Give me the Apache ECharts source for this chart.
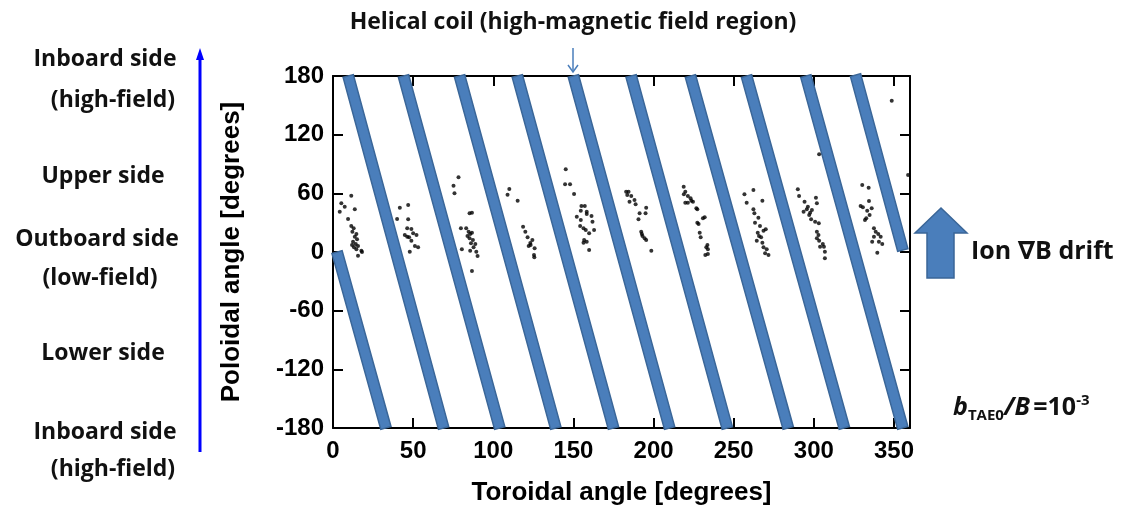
<!DOCTYPE html>
<html>
<head>
<meta charset="utf-8">
<script src="https://cdn.jsdelivr.net/npm/echarts@6/dist/echarts.min.js"></script>
<style>
  html, body { margin: 0; padding: 0; background: #fff; }
  #chart { width: 1126px; height: 511px; }
</style>
</head>
<body>
<div id="chart"></div>
<script>
// Helical coil footprints: each stripe runs from (top toroidal, top poloidal) to (end toroidal, end poloidal)
const coilStartToroidal = [2.5, 9.5, 44, 79, 115, 150, 186, 223, 258, 295, 326];
const coilStartPoloidal = [0, 180, 180, 180, 180, 180, 180, 180, 180, 180, 181];
const coilEndToroidal   = [33, 69, 104, 139, 175, 210, 246, 284, 319, 355.5, 355.5];
const coilEndPoloidal   = [-180, -180, -180, -180, -180, -180, -180, -180, -180, -180, 2];

// Lost-particle positions (toroidal angle, poloidal angle) in degrees
const lossToroidal = [
  11.4, 5.2, 7.3, 4.2, 13.6, 9.4, 11.4, 12.9, 12.1, 14.6, 13.6, 15.0, 12.5, 14.2, 15.6, 13.1, 17.7, 15.6, 14.6, 11.9, 18.1,
  41.7, 46.9, 40.0, 46.9, 46.3, 48.9, 44.8, 50.0, 47.5, 52.1, 48.9, 51.1, 53.1, 47.9, 46.3,
  78.3, 75.2, 75.8, 85.2, 86.7, 79.8, 83.1, 84.6, 85.6, 86.7, 85.2, 87.3, 86.1, 88.8, 87.7, 85.6, 89.4, 90.2, 80.4, 83.9, 86.7,
  110.0, 108.9, 115.2, 118.6, 120.0, 121.4, 122.1, 124.4, 123.3, 125.8, 125.4, 125.6, 123.1,
  145.2, 144.8, 147.9, 150.4, 155.0, 157.1, 154.6, 158.3, 152.1, 158.3, 161.3, 154.6, 161.9, 154.2, 156.3, 157.7, 162.9, 159.8, 156.7, 158.3, 156.3, 159.8,
  182.9, 184.4, 183.6, 186.1, 188.1, 185.0, 188.8, 195.4, 191.3, 195.0, 190.6, 192.3, 192.7, 194.4, 195.4, 198.6, 193.1,
  218.8, 219.8, 218.9, 221.4, 223.1, 223.6, 219.8, 221.4, 224.6, 226.7, 227.3, 231.9, 230.8, 227.3, 228.1, 228.8, 229.4, 233.6, 232.9, 233.9, 233.9, 232.3,
  256.7, 262.3, 258.1, 267.9, 262.3, 262.9, 265.4, 263.3, 266.4, 270.0, 268.6, 265.0, 265.8, 267.1, 264.4, 267.9, 268.6, 270.6, 269.6, 271.7,
  290.0, 290.8, 294.2, 296.3, 293.6, 295.6, 297.7, 298.8, 297.1, 298.3, 300.8, 301.9, 302.9, 301.9, 303.3, 303.9, 301.3, 301.9, 306.3, 306.9, 305.6, 306.9, 303.1,
  330.2, 334.2, 334.4, 329.2, 330.6, 336.1, 333.3, 334.8, 332.7, 331.9, 337.5, 338.6, 340.2, 337.5, 341.7, 340.6, 342.7, 336.4, 339.6,
  348.6, 303.3, 358.8
];
const lossPoloidal = [
  57.6, 49.8, 46.3, 41.2, 43.7, 33.7, 26.6, 24.2, 20.8, 18.4, 15.6, 13.0, 10.5, 8.2, 6.1, 4.8, 1.3, -3.8, 2.8, 7.2, 0,
  45.3, 48.1, 33.7, 33.4, 24.2, 23.5, 17.4, 19.1, 15.0, 17.4, 11.6, 6.1, 4.8, 0.3, 15.6,
  76.4, 67.8, 60.0, 39.6, 40.2, 24.2, 24.2, 20.8, 18.4, 19.7, 14.0, 12.3, 8.9, 8.2, 4.8, 1.3, 0.3, -4.1, 2.8, 16.4, -19.4,
  64.4, 58.6, 52.5, 25.9, 20.8, 15.0, 6.1, 12.3, 7.2, 3.8, -3.1, -5.4, 9.2,
  84.6, 69.2, 69.2, 59.3, 47.0, 47.0, 42.2, 41.2, 36.1, 38.9, 36.8, 32.7, 31.0, 26.6, 24.2, 22.5, 22.5, 19.1, 12.3, 10.5, 9.5, 2.0,
  61.7, 61.7, 58.3, 57.3, 53.2, 51.4, 48.8, 45.3, 39.6, 39.6, 33.4, 20.8, 18.4, 14.0, 12.3, 1.3, 16.4,
  66.8, 61.7, 59.0, 57.3, 54.9, 52.5, 50.4, 50.4, 51.4, 44.7, 43.7, 35.5, 34.5, 30.0, 28.6, 19.7, 15.0, 7.2, 4.8, 2.8, -2.0, -3.1,
  59.0, 63.4, 50.4, 52.5, 43.7, 39.6, 35.1, 30.0, 26.6, 23.2, 21.8, 19.7, 16.4, 15.0, 11.6, 9.5, 4.8, 2.8, -1.3, -3.1,
  64.1, 57.3, 51.4, 46.3, 41.2, 43.7, 40.2, 42.9, 37.8, 33.4, 31.0, 20.8, 17.4, 14.0, 11.6, 5.4, 55.5, 49.8, 5.4, 0.3, 8.2, -6.4, 29.3,
  68.5, 65.7, 52.1, 47.0, 45.7, 44.7, 42.2, 37.8, 34.5, 32.7, 24.2, 20.8, 18.4, 15.6, 15.6, 10.5, 8.2, 10.5, -0.7,
  154.7, 99.9, 78.7
];

const xTickInterval = 50;
const yTickInterval = 60;

const coilData = coilStartToroidal.map((t, i) =>
  [t, coilStartPoloidal[i], coilEndToroidal[i], coilEndPoloidal[i]]);
const lossData = lossToroidal.map((t, i) => [t, lossPoloidal[i]]);

const COIL_FILL = '#4a7ebb';
const COIL_EDGE = '#3a6698';
const COIL_HALF_WIDTH = 5.3;

const tickFont = { fontFamily: 'Liberation Sans, Arial, sans-serif', fontWeight: 'bold', fontSize: 24, color: '#000' };
const titleFont = { fontFamily: 'Liberation Sans, Arial, sans-serif', fontWeight: 'bold', fontSize: 26, color: '#000' };
const noteFont = 'Open Sans, DejaVu Sans, sans-serif';
const noteColor = '#111';

const frameAxis = { show: true, onZero: false, lineStyle: { color: '#000', width: 2 } };
const frameTick = { show: true, inside: true, length: 10, lineStyle: { color: '#000', width: 2 } };

const chart = echarts.init(document.getElementById('chart'));

const sideLabels = [
  ['Inboard side', 105, 59],
  ['(high-field)', 113, 100],
  ['Upper side', 103, 176],
  ['Outboard side', 97, 239],
  ['(low-field)', 100, 278],
  ['Lower side', 103, 353],
  ['Inboard side', 105, 432],
  ['(high-field)', 113, 469]
];

chart.setOption({
  animation: false,
  backgroundColor: '#fff',
  grid: { left: 333, right: 216, top: 76, bottom: 83, containLabel: false },
  xAxis: [
    {
      type: 'value', min: 0, max: 360, interval: xTickInterval, position: 'bottom',
      axisLine: frameAxis, axisTick: frameTick, splitLine: { show: false },
      axisLabel: Object.assign({ margin: 11, showMaxLabel: false }, tickFont),
      name: 'Toroidal angle [degrees]', nameLocation: 'middle', nameGap: 52,
      nameTextStyle: titleFont
    },
    {
      type: 'value', min: 0, max: 360, interval: xTickInterval, position: 'top',
      axisLine: frameAxis, axisTick: frameTick, splitLine: { show: false },
      axisLabel: { show: false }
    }
  ],
  yAxis: [
    {
      type: 'value', min: -180, max: 180, interval: yTickInterval, position: 'left',
      axisLine: frameAxis, axisTick: frameTick, splitLine: { show: false },
      axisLabel: Object.assign({ margin: 9 }, tickFont),
      name: 'Poloidal angle [degrees]', nameLocation: 'middle', nameGap: 88,
      nameTextStyle: titleFont
    },
    {
      type: 'value', min: -180, max: 180, interval: yTickInterval, position: 'right',
      axisLine: frameAxis, axisTick: frameTick, splitLine: { show: false },
      axisLabel: { show: false }
    }
  ],
  series: [
    {
      name: 'Helical coil',
      type: 'custom',
      xAxisIndex: 0, yAxisIndex: 0,
      clip: false,
      encode: { x: [0, 2], y: [1, 3] },
      data: coilData,
      renderItem: function (params, api) {
        const a = api.coord([api.value(0), api.value(1)]);
        const b = api.coord([api.value(2), api.value(3)]);
        const dx = b[0] - a[0], dy = b[1] - a[1];
        const len = Math.sqrt(dx * dx + dy * dy);
        const nx = -dy / len * COIL_HALF_WIDTH, ny = dx / len * COIL_HALF_WIDTH;
        return {
          type: 'polygon',
          shape: { points: [[a[0] + nx, a[1] + ny], [b[0] + nx, b[1] + ny], [b[0] - nx, b[1] - ny], [a[0] - nx, a[1] - ny]] },
          style: { fill: COIL_FILL, stroke: COIL_EDGE, lineWidth: 1.5 }
        };
      },
      z: 2
    },
    {
      name: 'Lost particles',
      type: 'scatter',
      xAxisIndex: 0, yAxisIndex: 0,
      data: lossData,
      symbol: 'circle',
      symbolSize: 4,
      itemStyle: { color: '#000' },
      z: 3
    }
  ],
  graphic: [
    // poloidal direction arrow on the left
    { type: 'line', shape: { x1: 200, y1: 452, x2: 200, y2: 56 }, style: { stroke: '#0000ff', lineWidth: 3 } },
    { type: 'polygon', shape: { points: [[200, 48], [196, 60], [204, 60]] }, style: { fill: '#0000ff' } },
    ...sideLabels.map(([t, x, y]) => ({
      type: 'text', x: x, y: y,
      style: { text: t, font: 'bold 23px ' + noteFont, fill: noteColor, textAlign: 'center', textVerticalAlign: 'middle' }
    })),
    // helical coil pointer
    { type: 'text', x: 573, y: 22,
      style: { text: 'Helical coil (high-magnetic field region)', font: 'bold 23px ' + noteFont, fill: noteColor, textAlign: 'center', textVerticalAlign: 'middle' } },
    { type: 'line', shape: { x1: 573, y1: 48, x2: 573, y2: 72 }, style: { stroke: '#4a7ebb', lineWidth: 1.5 } },
    { type: 'polyline', shape: { points: [[568, 65], [573, 72], [578, 65]] }, style: { stroke: '#4a7ebb', lineWidth: 1.5, fill: null } },
    // ion grad-B drift block arrow
    { type: 'polygon', shape: { points: [[941, 208], [967, 233], [954, 233], [954, 278], [927, 278], [927, 233], [915, 233]] },
      style: { fill: COIL_FILL, stroke: COIL_EDGE, lineWidth: 1.5 } },
    { type: 'text', x: 971, y: 252,
      style: { text: 'Ion \u2207B drift', font: 'bold 25px ' + noteFont, fill: noteColor, textAlign: 'left', textVerticalAlign: 'middle' } },
    { type: 'text', x: 953, y: 408,
      style: {
        text: '{bi|b}{sub|TAE0}{bi|/B} {n|=10}{sup|-3}',
        textAlign: 'left', textVerticalAlign: 'middle',
        rich: {
          bi: { font: 'italic bold 25px ' + noteFont, fill: noteColor, lineHeight: 34, verticalAlign: 'middle' },
          n: { font: 'bold 25px ' + noteFont, fill: noteColor, lineHeight: 34, verticalAlign: 'middle' },
          sub: { font: 'bold 15px ' + noteFont, fill: noteColor, lineHeight: 34, verticalAlign: 'bottom', padding: [0, 0, 2, 0] },
          sup: { font: 'bold 15px ' + noteFont, fill: noteColor, lineHeight: 34, verticalAlign: 'top', padding: [2, 0, 0, 0] }
        }
      } }
  ]
});
</script>
</body>
</html>
